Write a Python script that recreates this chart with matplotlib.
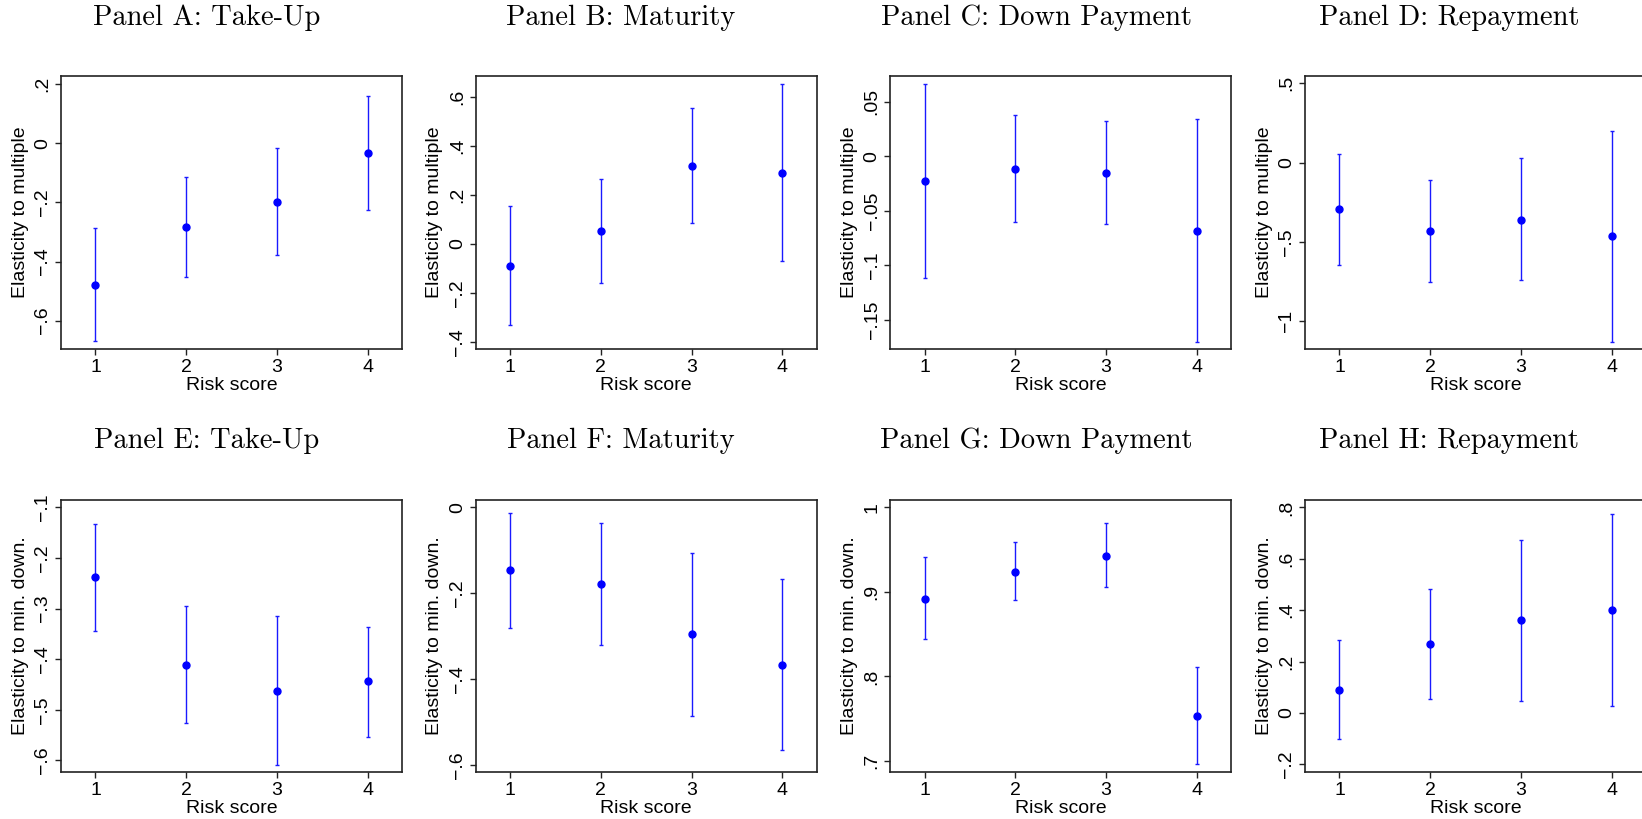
import matplotlib
matplotlib.use("Agg")
import matplotlib.pyplot as plt
from matplotlib.ticker import FixedLocator, FuncFormatter

plt.rcParams["font.family"] = ["Liberation Sans", "DejaVu Sans"]

risk = [1, 2, 3, 4]

titles = ["Panel A: Take-Up", "Panel B: Maturity", "Panel C: Down Payment", "Panel D: Repayment",
          "Panel E: Take-Up", "Panel F: Maturity", "Panel G: Down Payment", "Panel H: Repayment"]
ylabels = ["Elasticity to multiple"] * 4 + ["Elasticity to min. down."] * 4

# point estimates
est_A = [-0.480, -0.282, -0.198, -0.032]
est_B = [-0.091, 0.053, 0.318, 0.290]
est_C = [-0.0226, -0.0116, -0.0153, -0.0682]
est_D = [-0.295, -0.430, -0.359, -0.464]
est_E = [-0.238, -0.412, -0.462, -0.444]
est_F = [-0.147, -0.178, -0.296, -0.367]
est_G = [0.892, 0.924, 0.943, 0.753]
est_H = [0.090, 0.270, 0.361, 0.400]

# confidence interval upper / lower
hi_A = [-0.288, -0.113, -0.017, 0.160]
lo_A = [-0.670, -0.452, -0.379, -0.224]
hi_B = [0.154, 0.265, 0.555, 0.650]
lo_B = [-0.333, -0.158, 0.084, -0.069]
hi_C = [0.0657, 0.0379, 0.0318, 0.0336]
lo_C = [-0.1113, -0.0606, -0.0624, -0.170]
hi_D = [0.057, -0.110, 0.027, 0.200]
lo_D = [-0.648, -0.751, -0.743, -1.129]
hi_E = [-0.132, -0.295, -0.315, -0.336]
lo_E = [-0.345, -0.527, -0.609, -0.553]
hi_F = [-0.0125, -0.036, -0.107, -0.167]
lo_F = [-0.281, -0.321, -0.486, -0.566]
hi_G = [0.941, 0.959, 0.981, 0.811]
lo_G = [0.844, 0.891, 0.906, 0.696]
hi_H = [0.282, 0.484, 0.675, 0.775]
lo_H = [-0.103, 0.0545, 0.048, 0.026]

yticks_A = [-0.6, -0.4, -0.2, 0, 0.2]
yticks_B = [-0.4, -0.2, 0, 0.2, 0.4, 0.6]
yticks_C = [-0.15, -0.1, -0.05, 0, 0.05]
yticks_D = [-1, -0.5, 0, 0.5]
yticks_E = [-0.6, -0.5, -0.4, -0.3, -0.2, -0.1]
yticks_F = [-0.6, -0.4, -0.2, 0]
yticks_G = [0.7, 0.8, 0.9, 1]
yticks_H = [-0.2, 0, 0.2, 0.4, 0.6, 0.8]

ylims = [(-0.696, 0.228), (-0.429, 0.684), (-0.1768, 0.0734), (-1.175, 0.546),
         (-0.623, -0.0855), (-0.617, 0.0171), (0.687, 1.0087), (-0.230, 0.829)]

ests = [est_A, est_B, est_C, est_D, est_E, est_F, est_G, est_H]
his = [hi_A, hi_B, hi_C, hi_D, hi_E, hi_F, hi_G, hi_H]
los = [lo_A, lo_B, lo_C, lo_D, lo_E, lo_F, lo_G, lo_H]
yticks = [yticks_A, yticks_B, yticks_C, yticks_D, yticks_E, yticks_F, yticks_G, yticks_H]


def stata_fmt(v, pos=None):
    if abs(v) < 1e-12:
        return "0"
    s = ("%g" % abs(v))
    if s.startswith("0."):
        s = s[1:]
    return ("\u2212" + s) if v < 0 else s


W, H = 1642, 819
fig = plt.figure(figsize=(W / 100, H / 100), dpi=100)

lefts = [61, 475.7, 890.3, 1305]
rows = [(76, 349), (500, 772)]
width = 341
title_x = [207, 621, 1036, 1449]
title_y = [18, 441]

for i in range(8):
    r, c = divmod(i, 4)
    top, bot = rows[r]
    ax = fig.add_axes([lefts[c] / W, 1 - bot / H, width / W, (bot - top) / H])
    est = ests[i]
    yerr = [[e - l for e, l in zip(est, los[i])], [h - e for h, e in zip(his[i], est)]]
    ax.errorbar(risk, est, yerr=yerr, fmt="none", ecolor="#1a1aff", elinewidth=1.0,
                capsize=1.6, capthick=1.0)
    ax.plot(risk, est, "o", color="#0000ff", markersize=5)
    ax.set_xlim(0.62, 4.38)
    ax.set_ylim(*ylims[i])
    ax.xaxis.set_major_locator(FixedLocator(risk))
    ax.yaxis.set_major_locator(FixedLocator(yticks[i]))
    ax.yaxis.set_major_formatter(FuncFormatter(stata_fmt))
    ax.tick_params(axis="both", direction="out", length=4, width=1.0, color="#222222",
                   labelsize=14, pad=3)
    for lab in ax.get_yticklabels():
        lab.set_rotation(90)
        lab.set_va("center")
    for sp in ax.spines.values():
        sp.set_linewidth(1.2)
        sp.set_color("#222222")
    ax.set_xlabel("Risk score", fontsize=14, labelpad=1)
    ax.set_ylabel(ylabels[i], fontsize=14, labelpad=4)
    fig.text(title_x[c] / W, 1 - title_y[r] / H, titles[i], ha="center", va="center",
             fontsize=20.5, family="cmr10")

fig.savefig("out.png", dpi=100)
